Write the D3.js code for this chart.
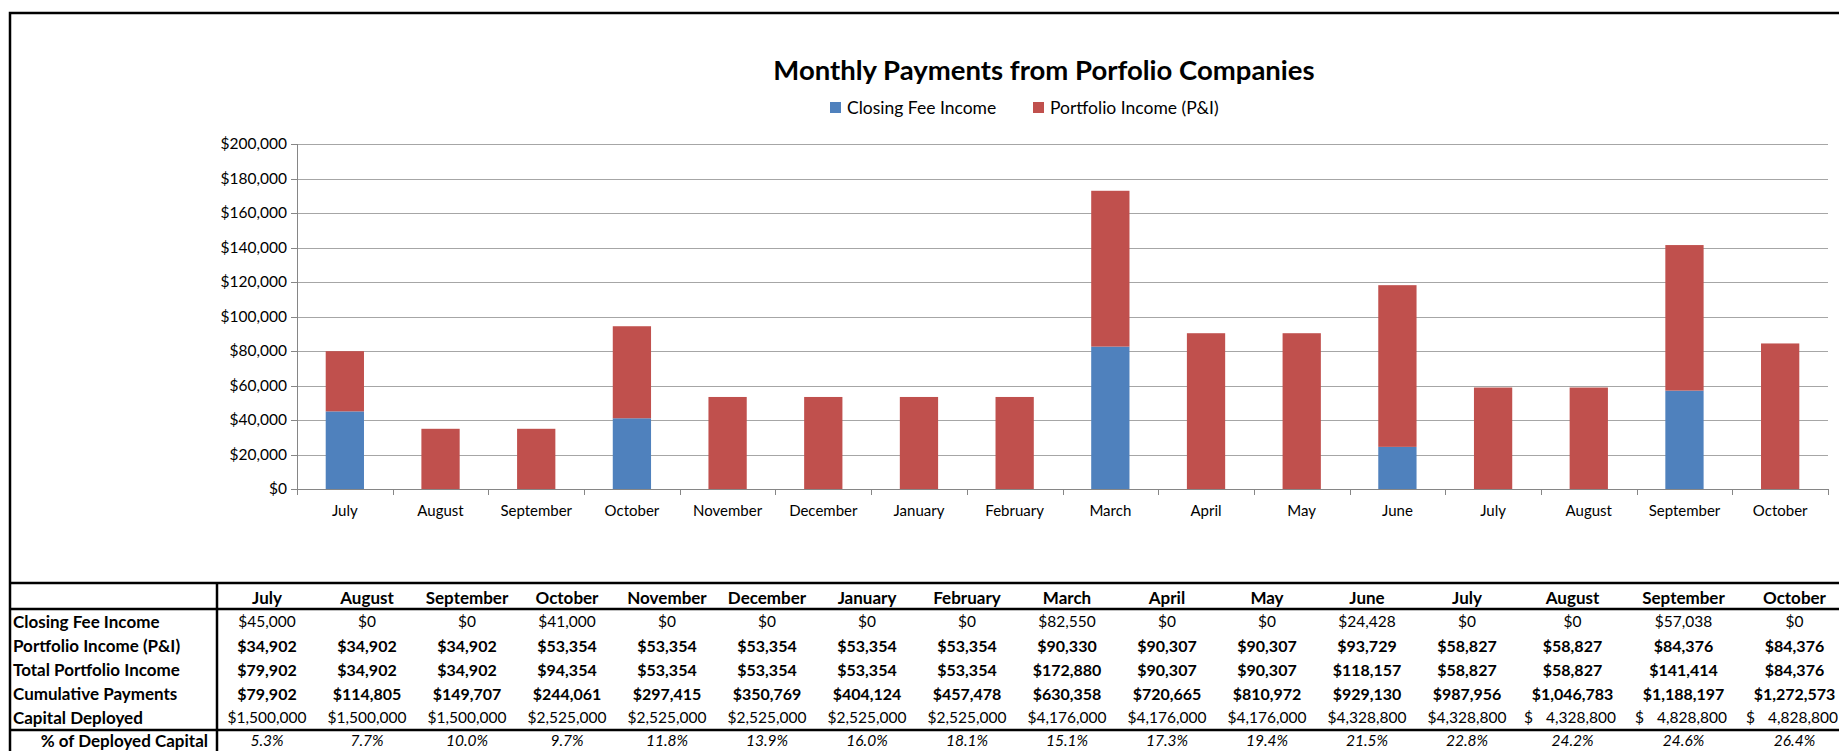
<!DOCTYPE html>
<html>
<head>
<meta charset="utf-8">
<script src="https://cdn.jsdelivr.net/npm/d3@7"></script>
<style>
body{margin:0;background:#fff;}
svg text{font-family:Lato,"Open Sans",sans-serif;fill:#000;}
</style>
</head>
<body>
<svg id="chart"></svg>
<script>
//data
const MONTHS = ['July','August','September','October','November','December','January','February','March','April','May','June','July','August','September','October'];
const CLOSING_FEE = [45000,0,0,41000,0,0,0,0,82550,0,0,24428,0,0,57038,0];
const PORTFOLIO_INCOME = [34902,34902,34902,53354,53354,53354,53354,53354,90330,90307,90307,93729,58827,58827,84376,84376];
const TOTAL_INCOME = [79902,34902,34902,94354,53354,53354,53354,53354,172880,90307,90307,118157,58827,58827,141414,84376];
const CUMULATIVE = [79902,114805,149707,244061,297415,350769,404124,457478,630358,720665,810972,929130,987956,1046783,1188197,1272573];
const CAPITAL_DEPLOYED = [1500000,1500000,1500000,2525000,2525000,2525000,2525000,2525000,4176000,4176000,4176000,4328800,4328800,4328800,4828800,4828800];
const PCT_DEPLOYED = [5.3,7.7,10.0,9.7,11.8,13.9,16.0,18.1,15.1,17.3,19.4,21.5,22.8,24.2,24.6,26.4];
const ACCOUNTING_COLS = [13,14,15];   //these cells use the "$   1,000" accounting format
const Y_TICKS = [0,20000,40000,60000,80000,100000,120000,140000,160000,180000,200000];
const SERIES = ['Closing Fee Income','Portfolio Income (P&I)'];

//constants
const CONSTANTS = {
    WIDTH:1839,
    HEIGHT:751,
    BOX_LEFT:10,
    BOX_TOP:13,
    PLOT_LEFT:297,
    PLOT_RIGHT:1828,
    PLOT_TOP:144,
    PLOT_BOTTOM:489,
    TABLE_TOP:583,
    LABEL_COL_RIGHT:217,
    //the sheet columns are not all the same width, the last three are wider
    COL_WIDTHS:[100,100,100,100,100,100,100,100,100,100,100,100,100,111,111,111],
    ROW_HEIGHT:24,
    HEADER_Y:598,
    FIRST_ROW_Y:622,
    LABEL_SIZE:'17px',   //row labels + month headers
    VALUE_SIZE:'15.5px', //regular cells
    BOLD_SIZE:'16px',    //bold cells
    BLUE:'#4F81BD',
    RED:'#C0504D',
    GRID:'#A6A6A6',
    AXIS:'#868686'
};

const svg = d3.select('#chart')
    .attr('width',CONSTANTS.WIDTH)
    .attr('height',CONSTANTS.HEIGHT);

function main(){
    let scales = buildScales();
    buildGrid(scales);
    buildBars(scales);
    buildAxis(scales);
    buildTitle();
    buildLegend();
    buildTable();
    buildBorders();
}

function buildScales(){
    let x = d3.scaleBand()
        .domain(d3.range(MONTHS.length))
        .range([CONSTANTS.PLOT_LEFT,CONSTANTS.PLOT_RIGHT])
        .paddingInner(0.6)
        .paddingOuter(0.3);
    //used for the tick marks between categories
    let xEdges = d3.scaleLinear()
        .domain([0,MONTHS.length])
        .range([CONSTANTS.PLOT_LEFT,CONSTANTS.PLOT_RIGHT]);
    let y = d3.scaleLinear()
        .domain([0,d3.max(Y_TICKS)])
        .range([CONSTANTS.PLOT_BOTTOM,CONSTANTS.PLOT_TOP]);
    return {x:x,xEdges:xEdges,y:y};
}

function buildGrid(scales){
    let grid = svg.append('g')
        .attr('transform','translate('+CONSTANTS.PLOT_LEFT+',0)')
        .call(d3.axisLeft(scales.y)
            .tickValues(Y_TICKS.filter(d=>d>0))
            .tickSize(-(CONSTANTS.PLOT_RIGHT-CONSTANTS.PLOT_LEFT))
            .tickFormat(''));
    grid.select('.domain').remove();
    grid.selectAll('line').attr('stroke',CONSTANTS.GRID).attr('shape-rendering','crispEdges');
}

function buildBars(scales){
    let rows = MONTHS.map((m,i)=>({i:i,fee:CLOSING_FEE[i],pi:PORTFOLIO_INCOME[i]}));
    let stack = d3.stack().keys(['fee','pi'])(rows);
    let colors = [CONSTANTS.BLUE,CONSTANTS.RED];

    svg.append('g').selectAll('g')
        .data(stack)
        .enter()
        .append('g')
        .attr('fill',(d,i)=>colors[i])
        .selectAll('rect')
        .data(d=>d.filter(p=>p[1]>p[0]))
        .enter()
        .append('rect')
        .attr('x',d=>scales.x(d.data.i))
        .attr('y',d=>scales.y(d[1]))
        .attr('width',scales.x.bandwidth())
        .attr('height',d=>scales.y(d[0])-scales.y(d[1]));
}

function buildAxis(scales){
    let yAxis = svg.append('g')
        .attr('transform','translate('+CONSTANTS.PLOT_LEFT+',0)')
        .call(d3.axisLeft(scales.y)
            .tickValues(Y_TICKS)
            .tickSize(6)
            .tickPadding(4)
            .tickFormat(d=>'$'+d3.format(',')(d)));
    yAxis.selectAll('text').style('font-size','15.5px');
    yAxis.selectAll('line,path').attr('stroke',CONSTANTS.AXIS).attr('shape-rendering','crispEdges');

    //tick marks on the category boundaries
    let xTicks = svg.append('g')
        .attr('transform','translate(0,'+CONSTANTS.PLOT_BOTTOM+')')
        .call(d3.axisBottom(scales.xEdges)
            .tickValues(d3.range(MONTHS.length+1))
            .tickSize(6)
            .tickSizeOuter(0)
            .tickFormat(''));
    xTicks.selectAll('line,path').attr('stroke',CONSTANTS.AXIS).attr('shape-rendering','crispEdges');

    let xLabels = svg.append('g')
        .attr('transform','translate(0,'+CONSTANTS.PLOT_BOTTOM+')')
        .call(d3.axisBottom(scales.x)
            .tickSize(0)
            .tickPadding(16)
            .tickFormat(i=>MONTHS[i]));
    xLabels.select('.domain').remove();
    xLabels.selectAll('text').style('font-size','15px');
}

function buildTitle(){
    svg.append('text')
        .attr('x',1044)
        .attr('y',80)
        .attr('text-anchor','middle')
        .style('font-size','27.5px')
        .style('font-weight','bold')
        .text('Monthly Payments from Porfolio Companies');
}

function buildLegend(){
    let items = [{x:830,color:CONSTANTS.BLUE},{x:1033,color:CONSTANTS.RED}];
    let g = svg.append('g').selectAll('g')
        .data(SERIES)
        .enter()
        .append('g')
        .attr('transform',(d,i)=>'translate('+items[i].x+',102)');
    g.append('rect')
        .attr('width',11)
        .attr('height',11)
        .attr('fill',(d,i)=>items[i].color);
    g.append('text')
        .attr('x',17)
        .attr('y',12)
        .style('font-size','17.5px')
        .text(d=>d);
}

function money(v){
    return '$'+d3.format(',')(v);
}

function buildTable(){
    let t = svg.append('g');
    //left edge of every column
    let edges = [CONSTANTS.LABEL_COL_RIGHT].concat(Array.from(d3.cumsum(CONSTANTS.COL_WIDTHS),d=>d+CONSTANTS.LABEL_COL_RIGHT));
    let colLeft = i=>edges[i];
    let colRight = i=>edges[i+1];
    let colCenter = i=>(edges[i]+edges[i+1])/2;
    let tableRows = [
        {label:'Closing Fee Income',values:CLOSING_FEE.map(money),weight:'normal',style:'normal'},
        {label:'Portfolio Income (P&I)',values:PORTFOLIO_INCOME.map(money),weight:'bold',style:'normal'},
        {label:'Total Portfolio Income',values:TOTAL_INCOME.map(money),weight:'bold',style:'normal'},
        {label:'Cumulative Payments',values:CUMULATIVE.map(money),weight:'bold',style:'normal'},
        {label:'Capital Deployed',values:CAPITAL_DEPLOYED.map(money),weight:'normal',style:'normal',accounting:true},
        {label:'% of Deployed Capital',values:PCT_DEPLOYED.map(d=>d.toFixed(1)+'%'),weight:'normal',style:'italic',indent:true}
    ];

    //header
    t.append('g').selectAll('text')
        .data(MONTHS)
        .enter()
        .append('text')
        .attr('x',(d,i)=>colCenter(i))
        .attr('y',CONSTANTS.HEADER_Y)
        .attr('dy','0.35em')
        .attr('text-anchor','middle')
        .style('font-size',CONSTANTS.LABEL_SIZE)
        .style('font-weight','bold')
        .text(d=>d);

    tableRows.forEach((row,r)=>{
        let y = CONSTANTS.FIRST_ROW_Y + r*CONSTANTS.ROW_HEIGHT + (row.indent?-1:0);
        t.append('text')
            .attr('x',row.indent ? 208 : CONSTANTS.BOX_LEFT+3)
            .attr('y',y)
            .attr('dy','0.35em')
            .attr('text-anchor',row.indent ? 'end' : 'start')
            .style('font-size',CONSTANTS.LABEL_SIZE)
            .style('font-weight','bold')
            .text(row.label);

        let size = row.weight=='bold' ? CONSTANTS.BOLD_SIZE : CONSTANTS.VALUE_SIZE;
        let cells = t.append('g').selectAll('g')
            .data(row.values)
            .enter()
            .append('g');
        cells.each(function(d,i){
            let cell = d3.select(this);
            if(row.accounting && ACCOUNTING_COLS.includes(i)){
                cell.append('text')
                    .attr('x',colLeft(i)+7)
                    .attr('y',y).attr('dy','0.35em')
                    .style('font-size',size)
                    .text('$');
                cell.append('text')
                    .attr('x',colRight(i)-12)
                    .attr('y',y).attr('dy','0.35em')
                    .attr('text-anchor','end')
                    .style('font-size',size)
                    .text(d.slice(1));
            } else {
                cell.append('text')
                    .attr('x',colCenter(i))
                    .attr('y',y).attr('dy','0.35em')
                    .attr('text-anchor','middle')
                    .style('font-size',size)
                    .style('font-weight',row.weight)
                    .style('font-style',row.style)
                    .text(d);
            }
        });
    });

    //table rules
    let hLines = [CONSTANTS.TABLE_TOP, CONSTANTS.HEADER_Y+11, CONSTANTS.FIRST_ROW_Y + 4.5*CONSTANTS.ROW_HEIGHT];
    t.selectAll('line.h')
        .data(hLines)
        .enter()
        .append('line')
        .attr('x1',CONSTANTS.BOX_LEFT)
        .attr('x2',CONSTANTS.WIDTH)
        .attr('y1',d=>d)
        .attr('y2',d=>d)
        .attr('stroke','#000')
        .attr('stroke-width',2.5);
    t.append('line')
        .attr('x1',CONSTANTS.LABEL_COL_RIGHT)
        .attr('x2',CONSTANTS.LABEL_COL_RIGHT)
        .attr('y1',CONSTANTS.TABLE_TOP)
        .attr('y2',CONSTANTS.HEIGHT)
        .attr('stroke','#000')
        .attr('stroke-width',2.5);
}

function buildBorders(){
    svg.append('path')
        .attr('d','M'+CONSTANTS.BOX_LEFT+','+CONSTANTS.HEIGHT+'V'+CONSTANTS.BOX_TOP+'H'+CONSTANTS.WIDTH)
        .attr('fill','none')
        .attr('stroke','#000')
        .attr('stroke-width',2.5);
}

main();
</script>
</body>
</html>
